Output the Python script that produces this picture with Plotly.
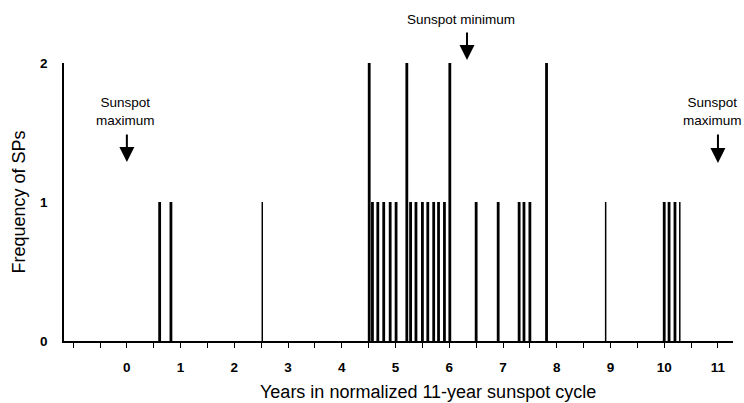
import plotly.graph_objects as go

# Data
years = [0.61, 0.82, 2.52, 4.51, 4.57, 4.67, 4.78, 4.90, 5.01, 5.21, 5.28, 5.38,
         5.50, 5.60, 5.71, 5.80, 5.91, 6.01, 6.50, 6.91, 7.30, 7.39, 7.50, 7.81,
         8.91, 10.00, 10.09, 10.20, 10.29]
freq = [1, 1, 1, 2, 1, 1, 1, 1, 1, 2, 1, 1,
        1, 1, 1, 1, 1, 2, 1, 1, 1, 1, 1, 2,
        1, 1, 1, 1, 1]
tick_years = list(range(0, 12))
tick_labels = [str(v) for v in tick_years]
y_ticks = [0, 1, 2]

thin_years = {2.52, 8.91, 10.29}

FONT = "Liberation Sans, Arial, sans-serif"


def spikes(sel):
    xs, ys = [], []
    for xv, fv in zip(years, freq):
        if sel(xv):
            xs += [xv, xv, None]
            ys += [0, fv, None]
    return xs, ys


fig = go.Figure()
for sel, lw in [(lambda v: v not in thin_years, 2.8), (lambda v: v in thin_years, 1.5)]:
    xs, ys = spikes(sel)
    fig.add_trace(go.Scatter(x=xs, y=ys, mode="lines",
                             line=dict(color="black", width=lw),
                             showlegend=False, hoverinfo="skip"))

fig.update_layout(
    width=744, height=403,
    margin=dict(l=64, r=11, t=63, b=62),
    plot_bgcolor="white", paper_bgcolor="white",
    font=dict(family=FONT, color="black", size=14),
)
fig.update_xaxes(
    range=[-1.17, 11.28],
    tickmode="array", tickvals=tick_years, ticktext=tick_labels,
    ticks="outside", ticklen=5, tickwidth=1, tickcolor="black",
    minor=dict(ticks="outside", dtick=0.5, tick0=0, ticklen=5, tickwidth=1, tickcolor="black"),
    ticklabelstandoff=8,
    tickfont=dict(size=13.5, family=FONT, weight="bold"),
    showline=True, linecolor="black", linewidth=2,
    showgrid=False, zeroline=False,
)
fig.update_yaxes(
    range=[0, 2],
    tickmode="array", tickvals=y_ticks, ticktext=[str(v) for v in y_ticks],
    ticks="", ticklabelstandoff=12,
    tickfont=dict(size=13.5, family=FONT, weight="bold"),
    showline=True, linecolor="black", linewidth=1.5,
    showgrid=False, zeroline=False,
    title=dict(text="Frequency of SPs", font=dict(size=18, family=FONT), standoff=10),
)

# x-axis title (offset to the right as in the reference)
fig.add_annotation(x=0.544, y=-0.183, xref="paper", yref="paper",
                   text="Years in normalized 11-year sunspot cycle",
                   showarrow=False, xanchor="center", yanchor="middle",
                   font=dict(size=18, family=FONT))

arrow_kw = dict(showarrow=True, arrowhead=2, arrowsize=1.5, arrowwidth=2,
                arrowcolor="black", ax=0, text="")
text_kw = dict(showarrow=False, xanchor="center", yanchor="middle",
               font=dict(size=13.5, family=FONT))
# Sunspot minimum
fig.add_annotation(x=6.33, y=1.011, xref="x", yref="paper", ay=-29, **arrow_kw)
fig.add_annotation(x=6.22, y=1.155, xref="x", yref="paper", text="Sunspot minimum", **text_kw)
# Left sunspot maximum
fig.add_annotation(x=0, y=0.644, xref="x", yref="paper", ay=-29, **arrow_kw)
fig.add_annotation(x=-0.03, y=0.826, xref="x", yref="paper", text="Sunspot<br>maximum", **text_kw)
# Right sunspot maximum
fig.add_annotation(x=11.0, y=0.640, xref="x", yref="paper", ay=-30, **arrow_kw)
fig.add_annotation(x=10.89, y=0.826, xref="x", yref="paper", text="Sunspot<br>maximum", **text_kw)

fig.write_html("out.html")
